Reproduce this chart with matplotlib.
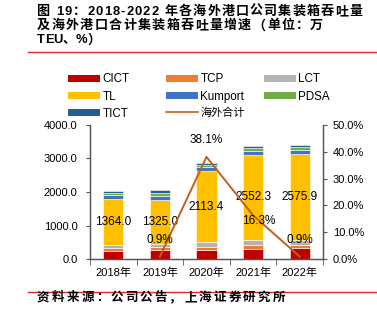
import numpy as np
import matplotlib
matplotlib.use("Agg")
import matplotlib.pyplot as plt
from matplotlib.patches import Patch
from matplotlib.lines import Line2D
from matplotlib.ticker import FuncFormatter, FixedLocator

plt.rcParams['font.family'] = ['Liberation Sans', 'Noto Sans CJK SC']

years = ['2018年', '2019年', '2020年', '2021年', '2022年']
series_names = ['CICT', 'TCP', 'LCT', 'TL', 'Kumport', 'PDSA', 'TICT']
CICT = [250, 280, 270, 290, 320]
TCP = [75, 80, 100, 130, 100]
LCT = [95, 80, 130, 140, 150]
TL = [1364.0, 1325.0, 2113.4, 2552.3, 2575.9]
Kumport = [120, 120, 130, 120, 120]
PDSA = [70, 90, 70, 70, 70]
TICT = [60, 77, 60, 70, 60]
growth = [np.nan, 0.9, 38.1, 16.3, 0.9]
line_name = '海外合计'

colors = ['#C00000', '#ED7D31', '#B4B4B4', '#FFC000', '#4472C4', '#70AD47', '#255E91']
line_color = '#C0601A'

W, H = 377, 321
fig = plt.figure(figsize=(W / 100, H / 100), dpi=100)
ax = fig.add_axes([90 / W, 1 - 259 / H, (323 - 90) / W, (259 - 125) / H])
ax2 = ax.twinx()

x = np.arange(len(years))
data = [CICT, TCP, LCT, TL, Kumport, PDSA, TICT]
bottom = np.zeros(len(years))
for name, vals, c in zip(series_names, data, colors):
    ax.bar(x, vals, 0.43, bottom=bottom, color=c, edgecolor='white', linewidth=0.4, label=name)
    if name == 'TL':
        for xi, bi, v in zip(x, bottom, vals):
            ax.text(xi, bi + v / 2, f'{v:.1f}', ha='center', va='center', fontsize=8.5, color='black')
    bottom = bottom + np.array(vals)

ax.set_xlim(-0.5, len(years) - 0.5)
ax.set_ylim(0, 4000)
ax.set_yticks([0, 1000, 2000, 3000, 4000])
ax.yaxis.set_major_formatter(FuncFormatter(lambda v, p: f'{v:.1f}'))
ax.set_xticks(x)
ax.set_xticklabels(years)
ax.xaxis.set_minor_locator(FixedLocator(np.arange(-0.5, len(years), 1.0)))
ax.tick_params(axis='x', which='major', length=0, labelsize=8, pad=6)
ax.tick_params(axis='x', which='minor', length=4, direction='out', color='#555555')
ax.tick_params(axis='y', length=3, direction='out', labelsize=8, pad=6, color='#555555')

ln, = ax2.plot(x, growth, color=line_color, lw=1.4, label=line_name)
label_offsets = [(0, 12), (0, 12), (0, 12), (4, -4), (0, 12)]
for xi, g, off in zip(x, growth, label_offsets):
    if not np.isnan(g):
        ax2.annotate(f'{g:.1f}%', (xi, g), xytext=off, textcoords='offset points',
                     ha='center', va='center', fontsize=8.5, color='black')
ax2.set_ylim(0, 50)
ax2.set_yticks([0, 10, 20, 30, 40, 50])
ax2.yaxis.set_major_formatter(FuncFormatter(lambda v, p: f'{v:.1f}%'))
ax2.tick_params(axis='y', length=3, direction='out', labelsize=8, pad=4, color='#555555')

for a in (ax, ax2):
    a.spines['top'].set_visible(False)
    for s in ('left', 'right', 'bottom'):
        a.spines[s].set_color('#555555')
        a.spines[s].set_linewidth(0.9)

# legend: three equal-width columns
hp = [Patch(facecolor=c, edgecolor='none') for c in colors]
legend_line = Line2D([], [], color=line_color, lw=1.2)
cols = [
    ([hp[0], hp[3], hp[6]], ['CICT', 'TL', 'TICT'], 68),
    ([hp[1], hp[4], legend_line], ['TCP', 'Kumport', line_name], 166),
    ([hp[2], hp[5]], ['LCT', 'PDSA'], 264),
]
for hs, ls, xl in cols:
    leg = fig.legend(hs, ls, ncol=1, loc='upper left', bbox_to_anchor=(xl / W, 1 - 73.5 / H),
                     frameon=False, fontsize=8.4, handlelength=2.7, handleheight=0.55, handletextpad=0.25,
                     labelspacing=0.44, borderpad=0, borderaxespad=0)
    for t in leg.get_texts():
        if t.get_text() == line_name:
            t.set_fontsize(8)

renderer = fig.canvas.get_renderer()


def tracked(s, x0, y, size, x1=None, **kw):
    arts = []
    widths = []
    for ch in s:
        if ch == ' ':
            arts.append(None)
            widths.append(size * 100 / 72 * 0.28)
            continue
        t = fig.text(0, 1 - y / H, ch, fontsize=size, va='center', ha='left', **kw)
        arts.append(t)
        widths.append(t.get_window_extent(renderer).width)
    total = sum(widths)
    track = 0.0
    if x1 is not None and len(s) > 1:
        track = (x1 - x0 - total) / (len(s) - 1)
    xx = x0
    for t, w in zip(arts, widths):
        if t is not None:
            t.set_x(xx / W)
        xx += w + track


tracked('图 19：2018-2022 年各海外港口公司集装箱吞吐量', 37, 12, 9.4, x1=362, weight='bold')
tracked('及海外港口合计集装箱吞吐量增速（单位：万', 37, 26, 9.4, x1=323, weight='bold')
tracked('TEU、%）', 37, 40, 9.4, weight='bold')
tracked('资料来源：公司公告，上海证券研究所', 37, 298, 9.0, x1=285, weight='bold', style='italic')

fig.add_artist(Line2D([28 / W, 1], [1 - 52 / H] * 2, color='#E8252A', lw=1.0))
fig.add_artist(Line2D([28 / W, 1], [1 - 291.5 / H] * 2, color='#E8252A', lw=1.0))

fig.savefig('out.png', dpi=100)
